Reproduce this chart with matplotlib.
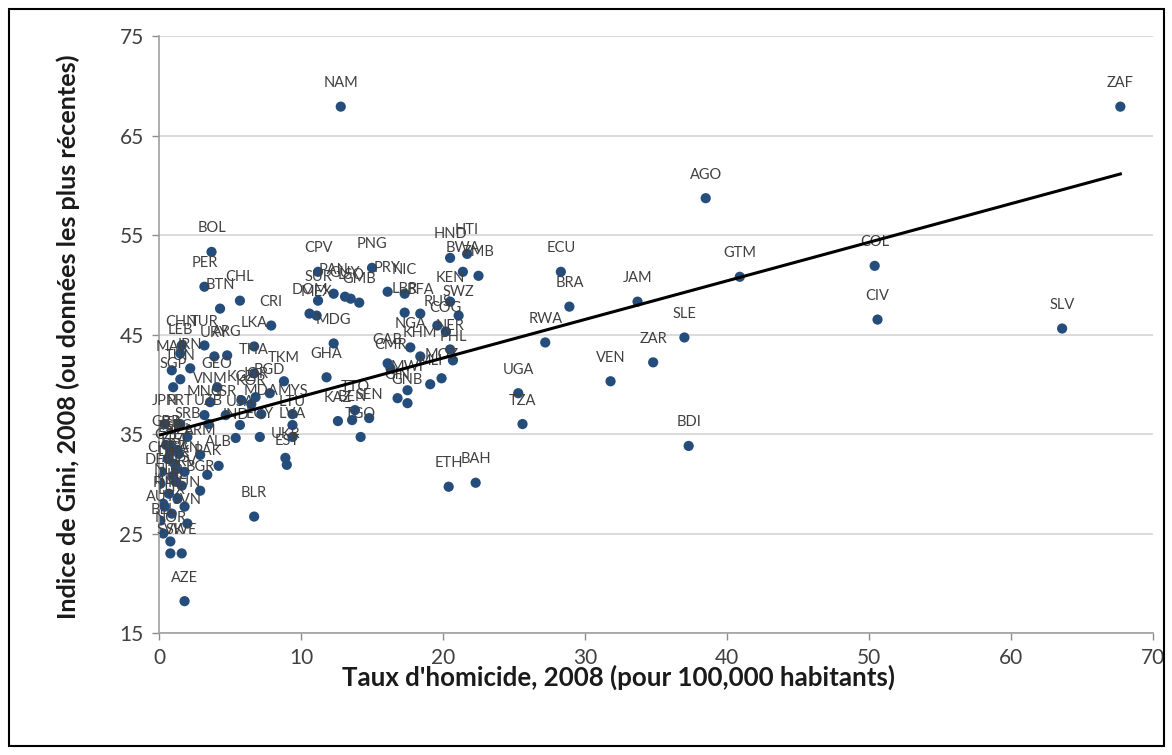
import numpy as np
import matplotlib
matplotlib.use("Agg")
import matplotlib.pyplot as plt
from matplotlib.patches import Rectangle

# ---- data ----
codes = ["NAM", "ZAF", "AGO", "GTM", "COL", "CIV", "SLV", "SLE", "ZAR", "JAM",
         "VEN", "BDI", "BRA", "ECU", "RWA", "UGA", "TZA", "ETH", "BAH", "HTI",
         "HND", "BWA", "ZMB", "KEN", "SWZ", "RUS", "COG", "NER", "PHL", "KHM",
         "NGA", "MOZ", "GAB", "CMR", "MWI", "GNB", "MLI", "GIN", "PNG", "PRY",
         "NIC", "LBR", "BFA", "CPV", "PAN", "GUY", "LSO", "GMB", "SUR", "DOM",
         "MEX", "MDG", "GHA", "TKM", "BGD", "JOR", "THA", "KGZ", "KOR", "MDA",
         "MYS", "LTU", "LVA", "UKR", "EST", "BLR", "KAZ", "TTO", "BEN", "SEN",
         "TGO", "BOL", "PER", "BTN", "CHL", "CRI", "LKA", "CHN", "TUR", "LEB",
         "URY", "ARG", "MAR", "IRN", "TUN", "SGP", "GEO", "VNM", "MNG", "ISR",
         "USA", "IND", "EGY", "JPN", "PRT", "UZB", "SRB", "GBR", "ITA", "GRC",
         "ESP", "ARM", "ALB", "PAK", "CHE", "CAN", "DEU", "BGR", "FIN", "HUN",
         "AUT", "SVN", "BEL", "NOR", "SVK", "SWE", "AZE",
         "CZE", "DNK", "NLD", "FRA", "IRL", "AUS", "NZL", "POL", "HRV", "ISL",
         "LUX"]

homicide = [12.8, 67.7, 38.5, 40.9, 50.4, 50.6, 63.6, 37.0, 34.8, 33.7,
            31.8, 37.3, 28.9, 28.3, 27.2, 25.3, 25.6, 20.4, 22.3, 21.7,
            20.5, 21.4, 22.5, 20.5, 21.1, 19.6, 20.2, 20.5, 20.7, 18.4,
            17.7, 19.9, 16.1, 16.3, 17.5, 17.5, 19.1, 16.8, 15.0, 16.1,
            17.3, 17.3, 18.4, 11.2, 12.3, 13.1, 13.5, 14.1, 11.2, 10.6,
            11.1, 12.3, 11.8, 8.8, 7.8, 6.8, 6.7, 5.8, 6.5, 7.2,
            9.4, 9.4, 9.4, 8.9, 9.0, 6.7, 12.6, 13.8, 13.6, 14.8,
            14.2, 3.7, 3.2, 4.3, 5.7, 7.9, 6.7, 1.6, 3.2, 1.5,
            3.9, 4.8, 0.9, 2.2, 1.5, 1.0, 4.1, 3.6, 3.2, 4.7,
            5.7, 5.4, 7.1, 0.4, 1.5, 3.5, 2.0, 0.5, 0.9, 1.3,
            0.8, 2.9, 4.2, 3.4, 0.2, 1.8, 0.1, 2.9, 0.4, 1.8,
            0.1, 2.0, 0.3, 0.8, 0.8, 1.6, 1.8,
            0.6, 1.0, 0.7, 1.1, 1.3, 1.2, 1.4, 1.2, 1.6, 0.3,
            0.9]

gini = [67.9, 67.9, 58.7, 50.8, 51.9, 46.5, 45.6, 44.7, 42.2, 48.3,
        40.3, 33.8, 47.8, 51.3, 44.2, 39.1, 36.0, 29.7, 30.1, 53.1,
        52.7, 51.3, 50.9, 48.3, 46.9, 45.9, 45.3, 43.5, 42.4, 42.8,
        43.7, 40.6, 42.1, 41.6, 39.4, 38.1, 40.0, 38.6, 51.7, 49.3,
        49.1, 47.2, 47.1, 51.3, 49.1, 48.8, 48.6, 48.2, 48.4, 47.1,
        46.9, 44.1, 40.7, 40.3, 39.1, 38.7, 41.1, 38.4, 38.0, 37.0,
        37.0, 35.9, 34.7, 32.6, 31.9, 26.7, 36.3, 37.4, 36.4, 36.6,
        34.7, 53.3, 49.8, 47.6, 48.4, 45.9, 43.8, 43.9, 43.9, 43.1,
        42.8, 42.9, 41.4, 41.6, 40.5, 39.7, 39.7, 38.2, 36.9, 36.9,
        35.9, 34.6, 34.7, 36.0, 36.0, 36.0, 34.7, 33.9, 33.7, 33.4,
        33.2, 32.9, 31.8, 30.9, 31.2, 31.2, 30.0, 29.3, 27.7, 27.7,
        26.3, 26.0, 25.0, 24.2, 23.0, 23.0, 18.2,
        32.5, 30.8, 29.0, 32.0, 28.5, 30.2, 33.0, 31.5, 29.8, 28.0,
        27.0]

x_ticks = [0, 10, 20, 30, 40, 50, 60, 70]
y_ticks = [15, 25, 35, 45, 55, 65, 75]
x_title = "Taux d'homicide, 2008 (pour 100,000 habitants)"
y_title = "Indice de Gini, 2008 (ou données les plus récentes)"

# ---- figure ----
plt.rcParams['font.family'] = ['Lato', 'DejaVu Sans']
W, H = 1172, 755
fig = plt.figure(figsize=(W / 100, H / 100), dpi=100)
ax = fig.add_axes([159 / W, 1 - 633 / H, (1153 - 159) / W, (633 - 36) / H])

hx = np.array(homicide)
gy = np.array(gini)

ax.scatter(hx, gy, s=54, color="#254d7c", edgecolors="none", zorder=2)

for c, xv, yv in zip(codes, hx, gy):
    ax.annotate(c, (xv, yv), xytext=(0, 14), textcoords="offset points",
                ha="center", va="baseline", fontsize=10.5, color="#404040",
                zorder=3)

# linear trend line (least squares on the data)
slope, intercept = np.polyfit(hx, gy, 1)
xl = np.array([hx.min(), hx.max()])
ax.plot(xl, slope * xl + intercept, color="black", lw=2.2, zorder=4)

ax.set_xlim(0, 70)
ax.set_ylim(15, 75)
ax.set_xticks(x_ticks)
ax.set_yticks(y_ticks)
ax.tick_params(axis="both", labelsize=15, colors="#8c8c8c", length=5,
               width=1, direction="out", pad=6)
for lab in ax.get_xticklabels() + ax.get_yticklabels():
    lab.set_color("#404040")
ax.yaxis.grid(True, color="#d4d4d4", lw=1.2)
ax.set_axisbelow(True)
for s in ["top", "right"]:
    ax.spines[s].set_visible(False)
for s in ["left", "bottom"]:
    ax.spines[s].set_color("#a0a0a0")
    ax.spines[s].set_linewidth(1.2)

fig.text(619 / W, 1 - 677 / H, x_title, ha="center", va="center",
         fontsize=18.6, fontweight="bold", color="#1a1a1a")
fig.text(68 / W, 1 - 337 / H, y_title, ha="center", va="center",
         rotation=90, fontsize=18.2, fontweight="bold", color="#1a1a1a")

fig.patches.append(Rectangle((9 / W, 1 - 746 / H), (1164 - 9) / W, (746 - 9) / H,
                             transform=fig.transFigure, fill=False,
                             edgecolor="black", lw=1.5))

fig.savefig("out.png", dpi=100)
